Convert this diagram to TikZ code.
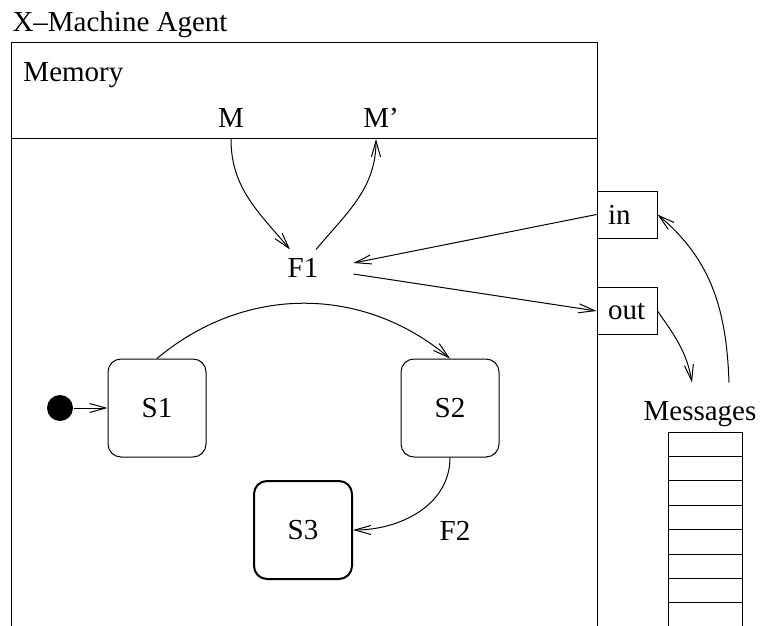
\documentclass[tikz,border=0pt]{standalone}
\usepackage{fontspec}
\setmainfont{Liberation Serif}
\usetikzlibrary{arrows.meta}

\tikzset{
  arr/.style={-{Straight Barb[length=8pt,width=4.5pt]}},
  state/.style={draw,rounded corners=6.5pt,minimum size=49pt,inner sep=0pt},
  port/.style={draw,text width=19pt,inner xsep=5.5pt,minimum height=23.5pt,align=left},
  memlbl/.style={inner sep=0pt,text depth=5.5pt,anchor=south},
}

\begin{document}
\begin{tikzpicture}[x=0.5pt,y=-0.5pt,line width=0.5pt,font=\fontsize{14.5pt}{17pt}\selectfont]
  \useasboundingbox (0,0) rectangle (760,626);

  % agent box and memory strip
  \node[anchor=base west,inner sep=0pt] (title) at (12,32) {X--Machine Agent};
  \draw (11,626) -- (11,43) -- (597,43) -- (597,626);
  \draw (11,139) -- (597,139);
  \node[anchor=base west,inner sep=0pt] (memory) at (23,82) {Memory};
  \node[memlbl] (M) at (231,139) {M};
  \node[memlbl] (Mp) at (381,139) {M’};

  \node[minimum width=50pt,minimum height=18pt,inner sep=0pt] (F1) at (303,268) {F1};

  % ports
  \node[port] (in) at (627,214.5) {in};
  \node[port] (out) at (627,311) {out};

  % message queue
  \node[anchor=base,inner sep=0pt,text height=18.5pt] (msgs) at (700,420) {Messages};
  \draw (668,626) -- (668,432) -- (742,432) -- (742,626);
  \foreach \k in {1,...,7}
    \draw (668,{432+24.4*\k}) -- (742,{432+24.4*\k});

  % states
  \node[circle,fill,minimum size=13pt,inner sep=0pt] (init) at (60,408) {};
  \node[state] (S1) at (157,408) {S1};
  \node[state] (S2) at (450,408) {S2};
  \node[state,line width=1pt] (S3) at (303,530) {S3};
  \node (F2) at (455,531) {F2};

  \draw[arr] (M.south) to[out=-90,in=130] ([xshift=-6.5pt]F1.north);
  \draw[arr] ([xshift=6.5pt]F1.north) to[out=50,in=-90] ([xshift=-2.5pt]Mp.south);
  \draw[arr] (in.west) -- ([yshift=2.5pt]F1.east);
  \draw[arr] ([yshift=-3pt]F1.east) -- (out.west);
  \draw[arr] (out.east) to[out=-55,in=100] ([xshift=-4pt]msgs.north);
  \draw[arr] ([xshift=14.5pt]msgs.north) to[out=92,in=-40] (in.east);
  \draw[arr] (init) -- (S1);
  \draw[arr] (S1.north) to[out=40,in=140] (S2.north);
  \draw[arr] (S2.south) to[out=-90,in=0] (S3.east);
\end{tikzpicture}
\end{document}
